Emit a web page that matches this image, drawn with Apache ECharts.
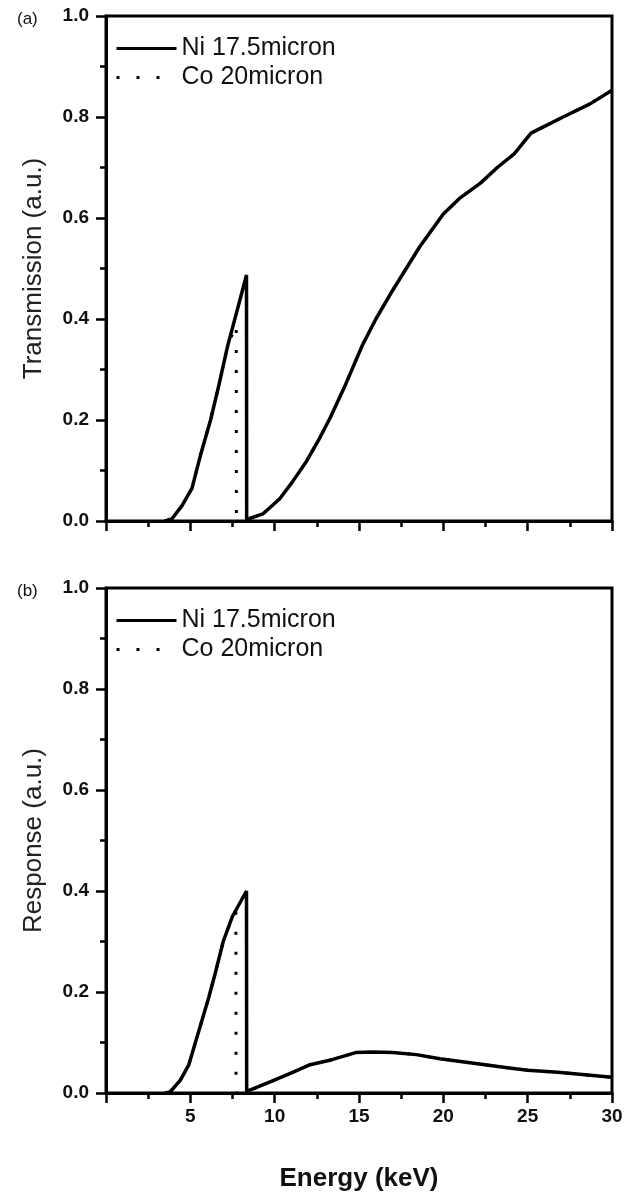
<!DOCTYPE html>
<html>
<head>
<meta charset="utf-8">
<title>Ni / Co Ross filter</title>
<script src="https://cdn.jsdelivr.net/npm/echarts@6/dist/echarts.min.js"></script>
<style>
  html, body { margin: 0; padding: 0; background: #fff; }
  #chart { width: 632px; height: 1194px; }
</style>
</head>
<body>
<div id="chart"></div>
<script>
// 数据：能量 (keV) 与对应数值
const seriesNames = ['Ni 17.5micron', 'Co 20micron'];
const yTicks = [0, 0.2, 0.4, 0.6, 0.8, 1.0];
const xTicks = [5, 10, 15, 20, 25, 30];

// (a) 透过率
const niTransE = [3.5, 3.9, 4.5, 5.1, 5.6, 6.2, 6.7, 7.2, 7.8, 8.33, 8.34, 9.3, 10.3, 11.0, 11.9, 12.6, 13.3, 14.2, 15.2, 16.0, 17.0, 17.8, 18.6, 20.0, 21.0, 22.2, 23.2, 24.2, 25.2, 26.2, 27.1, 28.7, 30.0];
const niTransT = [0, 0.004, 0.03, 0.065, 0.13, 0.2, 0.27, 0.345, 0.42, 0.487, 0.003, 0.014, 0.044, 0.075, 0.119, 0.16, 0.205, 0.27, 0.348, 0.40, 0.457, 0.50, 0.543, 0.608, 0.64, 0.669, 0.70, 0.727, 0.768, 0.785, 0.80, 0.826, 0.853];
const coTransE = [3.5, 3.9, 4.5, 5.1, 5.6, 6.2, 6.7, 7.2, 7.72, 7.73, 8.33, 8.34, 9.3, 10.3, 11.0, 11.9, 12.6, 13.3, 14.2, 15.2, 16.0, 17.0, 17.8, 18.6, 20.0, 21.0, 22.2, 23.2, 24.2, 25.2, 26.2, 27.1, 28.7, 30.0];
const coTransT = [0, 0.004, 0.03, 0.065, 0.13, 0.2, 0.27, 0.345, 0.39, 0, 0, 0.003, 0.014, 0.044, 0.075, 0.119, 0.16, 0.205, 0.27, 0.348, 0.40, 0.457, 0.50, 0.543, 0.608, 0.64, 0.669, 0.70, 0.727, 0.768, 0.785, 0.80, 0.826, 0.853];

// (b) 响应
const niRespE = [3.5, 3.8, 4.4, 4.9, 5.3, 5.7, 6.1, 6.5, 6.95, 7.5, 8.33, 8.34, 9.0, 9.8, 11.0, 12.1, 13.4, 14.8, 15.8, 17.0, 18.4, 19.8, 21.8, 23.8, 25.0, 26.8, 28.4, 30.0];
const niRespR = [0, 0.002, 0.025, 0.055, 0.1, 0.145, 0.19, 0.24, 0.30, 0.35, 0.40, 0.003, 0.012, 0.023, 0.04, 0.056, 0.066, 0.080, 0.081, 0.080, 0.076, 0.068, 0.059, 0.050, 0.045, 0.041, 0.036, 0.031];
const coRespE = [3.5, 3.8, 4.4, 4.9, 5.3, 5.7, 6.1, 6.5, 6.95, 7.5, 7.7, 7.71, 8.33, 8.34, 9.0, 9.8, 11.0, 12.1, 13.4, 14.8, 15.8, 17.0, 18.4, 19.8, 21.8, 23.8, 25.0, 26.8, 28.4, 30.0];
const coRespR = [0, 0.002, 0.025, 0.055, 0.1, 0.145, 0.19, 0.24, 0.30, 0.35, 0.36, 0, 0, 0.003, 0.012, 0.023, 0.04, 0.056, 0.066, 0.080, 0.081, 0.080, 0.076, 0.068, 0.059, 0.050, 0.045, 0.041, 0.036, 0.031];

function zip(xs, ys) {
  return xs.map((x, i) => [x, ys[i]]);
}

const FONT = "'Liberation Sans', Arial, sans-serif";

function makeXAxis(idx, showLabels) {
  return {
    type: 'value',
    gridIndex: idx,
    min: 0,
    max: 30,
    interval: 5,
    name: showLabels ? 'Energy (keV)' : '',
    nameLocation: 'middle',
    nameGap: 73,
    nameTextStyle: { fontFamily: FONT, fontSize: 26, fontWeight: 'bold', color: '#111' },
    axisLine: { show: true, onZero: false, lineStyle: { color: '#000', width: 3 } },
    axisTick: { show: true, length: 10, lineStyle: { color: '#000', width: 2.5 } },
    minorTick: { show: true, splitNumber: 2, length: 6, lineStyle: { color: '#000', width: 2.5 } },
    splitLine: { show: false },
    axisLabel: {
      show: showLabels,
      margin: 14,
      fontFamily: FONT,
      fontSize: 19,
      fontWeight: 'bold',
      color: '#111',
      formatter: v => (xTicks.indexOf(v) >= 0 ? String(v) : '')
    }
  };
}

function makeYAxis(idx, title) {
  return {
    type: 'value',
    gridIndex: idx,
    min: yTicks[0],
    max: yTicks[yTicks.length - 1],
    interval: 0.2,
    name: title,
    nameLocation: 'middle',
    nameGap: 59,
    nameTextStyle: { fontFamily: FONT, fontSize: 26, color: '#222' },
    axisLine: { show: true, onZero: false, lineStyle: { color: '#000', width: 3 } },
    axisTick: { show: true, length: 10, lineStyle: { color: '#000', width: 2.5 } },
    minorTick: { show: true, splitNumber: 2, length: 6, lineStyle: { color: '#000', width: 2.5 } },
    splitLine: { show: false },
    axisLabel: {
      margin: 17,
      fontFamily: FONT,
      fontSize: 19,
      fontWeight: 'bold',
      color: '#111',
      formatter: v => v.toFixed(1)
    }
  };
}

// 图例：只画线，不画中间的圆点
function makeLegend(top) {
  return {
    data: seriesNames,
    orient: 'vertical',
    left: 115,
    top: top,
    padding: 0,
    itemWidth: 60,
    itemHeight: 14,
    itemGap: 4,
    itemStyle: { color: 'transparent', borderWidth: 0 },
    lineStyle: { width: 3 },
    textStyle: { fontFamily: FONT, fontSize: 25, color: '#111' }
  };
}

function niSeries(idx, data) {
  return {
    name: seriesNames[0],
    type: 'line',
    xAxisIndex: idx,
    yAxisIndex: idx,
    data: data,
    symbol: 'none',
    z: 3,
    lineStyle: { color: '#000', width: 3.5 },
    itemStyle: { color: '#000' }
  };
}

function coSeries(idx, data) {
  return {
    name: seriesNames[1],
    type: 'line',
    xAxisIndex: idx,
    yAxisIndex: idx,
    data: data,
    symbol: 'none',
    z: 2,
    lineStyle: { color: '#000', width: 3, type: [3, 17] },
    itemStyle: { color: '#000' }
  };
}

const chart = echarts.init(document.getElementById('chart'), null, { renderer: 'canvas' });

const option = {
  backgroundColor: '#fff',
  animation: false,
  title: [
    { text: '(a)', left: 12, top: 6, textStyle: { fontFamily: FONT, fontSize: 17, fontWeight: 'normal', color: '#111' } },
    { text: '(b)', left: 12, top: 578, textStyle: { fontFamily: FONT, fontSize: 17, fontWeight: 'normal', color: '#111' } }
  ],
  legend: [makeLegend(36), makeLegend(608)],
  grid: [
    { left: 106, top: 16, width: 506, height: 505, show: true, borderColor: '#000', borderWidth: 3, containLabel: false },
    { left: 106, top: 588, width: 506, height: 505, show: true, borderColor: '#000', borderWidth: 3, containLabel: false }
  ],
  xAxis: [makeXAxis(0, false), makeXAxis(1, true)],
  yAxis: [makeYAxis(0, 'Transmission (a.u.)'), makeYAxis(1, 'Response (a.u.)')],
  series: [
    coSeries(0, zip(coTransE, coTransT)),
    niSeries(0, zip(niTransE, niTransT)),
    coSeries(1, zip(coRespE, coRespR)),
    niSeries(1, zip(niRespE, niRespR))
  ]
};

chart.setOption(option);
</script>
</body>
</html>
